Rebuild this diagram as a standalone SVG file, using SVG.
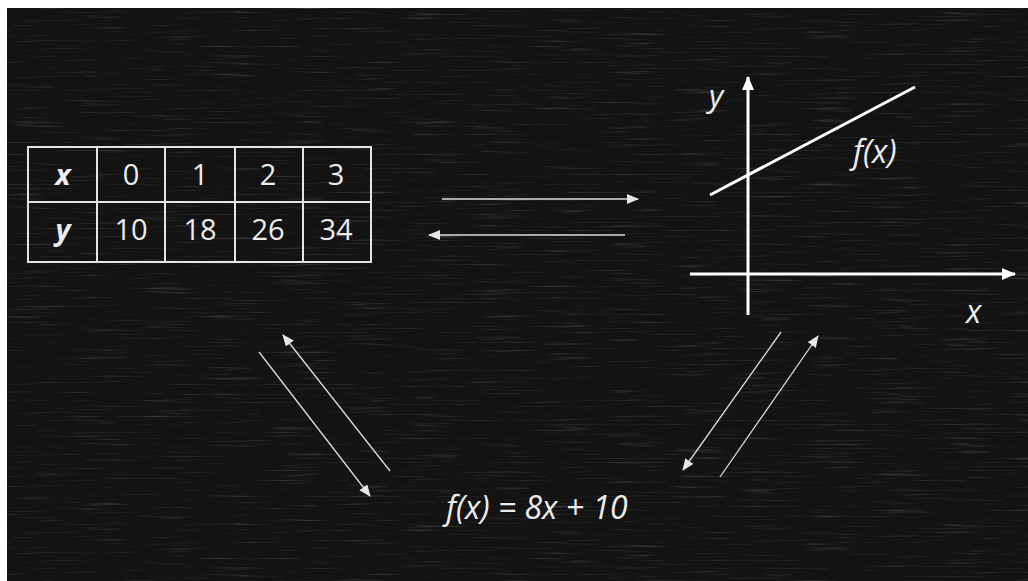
<svg xmlns="http://www.w3.org/2000/svg" width="1028" height="581" viewBox="0 0 1028 581">
  <defs>
    <filter id="chalk" x="0" y="0" width="100%" height="100%">
      <feTurbulence type="fractalNoise" baseFrequency="0.015 0.5" numOctaves="3" seed="7" result="n"/>
      <feColorMatrix type="matrix" in="n" values="0 0 0 0 1  0 0 0 0 1  0 0 0 0 1  0 0 0 1.6 -0.95"/>
    </filter>
    <marker id="ah" viewBox="0 0 12 10" refX="11" refY="5" markerWidth="12" markerHeight="10" markerUnits="userSpaceOnUse" orient="auto">
      <path d="M0,0 L12,5 L0,10 Z" fill="#e6e6e6"/>
    </marker>
    <marker id="ahAxis" viewBox="0 0 14 12" refX="13" refY="6" markerWidth="14" markerHeight="12" markerUnits="userSpaceOnUse" orient="auto">
      <path d="M0,0 L14,6 L0,12 Z" fill="#ffffff"/>
    </marker>
  </defs>
  <style>
    .txt { font-family: "Open Sans", "Liberation Sans", sans-serif; fill: #ececec; }
    .it { font-style: italic; }
    .bd { font-weight: bold; }
    .grid { stroke: #e4e4e4; stroke-width: 2; fill: none; }
    .conn { stroke: #dcdcdc; stroke-width: 1.3; fill: none; marker-end: url(#ah); }
    .axis { stroke: #ffffff; stroke-width: 3; fill: none; }
  </style>
  <rect x="0" y="0" width="1028" height="581" fill="#ffffff"/>
  <rect x="7" y="8" width="1021" height="573" fill="#131313"/>
  <rect x="7" y="8" width="1021" height="573" filter="url(#chalk)" opacity="0.3"/>

  <g id="table">
    <rect class="grid" x="28" y="147" width="343" height="115"/>
    <line class="grid" x1="28" y1="202" x2="371" y2="202"/>
    <line class="grid" x1="97" y1="147" x2="97" y2="262"/>
    <line class="grid" x1="165" y1="147" x2="165" y2="262"/>
    <line class="grid" x1="235" y1="147" x2="235" y2="262"/>
    <line class="grid" x1="303" y1="147" x2="303" y2="262"/>
    <g class="txt" font-size="29" text-anchor="middle">
      <text class="it bd" x="63" y="185">x</text>
      <text x="131" y="185">0</text>
      <text x="200" y="185">1</text>
      <text x="268" y="185">2</text>
      <text x="336" y="185">3</text>
      <text class="it bd" x="63" y="240">y</text>
      <text x="131" y="240">10</text>
      <text x="200" y="240">18</text>
      <text x="268" y="240">26</text>
      <text x="336" y="240">34</text>
    </g>
  </g>

  <g id="graph">
    <line class="axis" x1="748" y1="315" x2="748" y2="77" marker-end="url(#ahAxis)"/>
    <line class="axis" x1="690" y1="274" x2="1015" y2="274" marker-end="url(#ahAxis)"/>
    <line class="axis" x1="710" y1="195" x2="915" y2="87"/>
    <text class="txt it" font-size="31" x="709" y="107">y</text>
    <text class="txt it" font-size="32" x="853" y="163">f(x)</text>
    <text class="txt it" font-size="32" x="966" y="323">x</text>
  </g>

  <g id="formula">
    <text class="txt it" font-size="32" x="446" y="519">f(x) = 8x + 10</text>
  </g>

  <g id="connectors">
    <line class="conn" x1="442" y1="199" x2="638" y2="199"/>
    <line class="conn" x1="625" y1="235" x2="429" y2="235"/>
    <line class="conn" x1="259" y1="352" x2="370" y2="496"/>
    <line class="conn" x1="390" y1="471" x2="283" y2="335"/>
    <line class="conn" x1="781" y1="332" x2="683" y2="470"/>
    <line class="conn" x1="720" y1="477" x2="818" y2="336"/>
  </g>
</svg>
